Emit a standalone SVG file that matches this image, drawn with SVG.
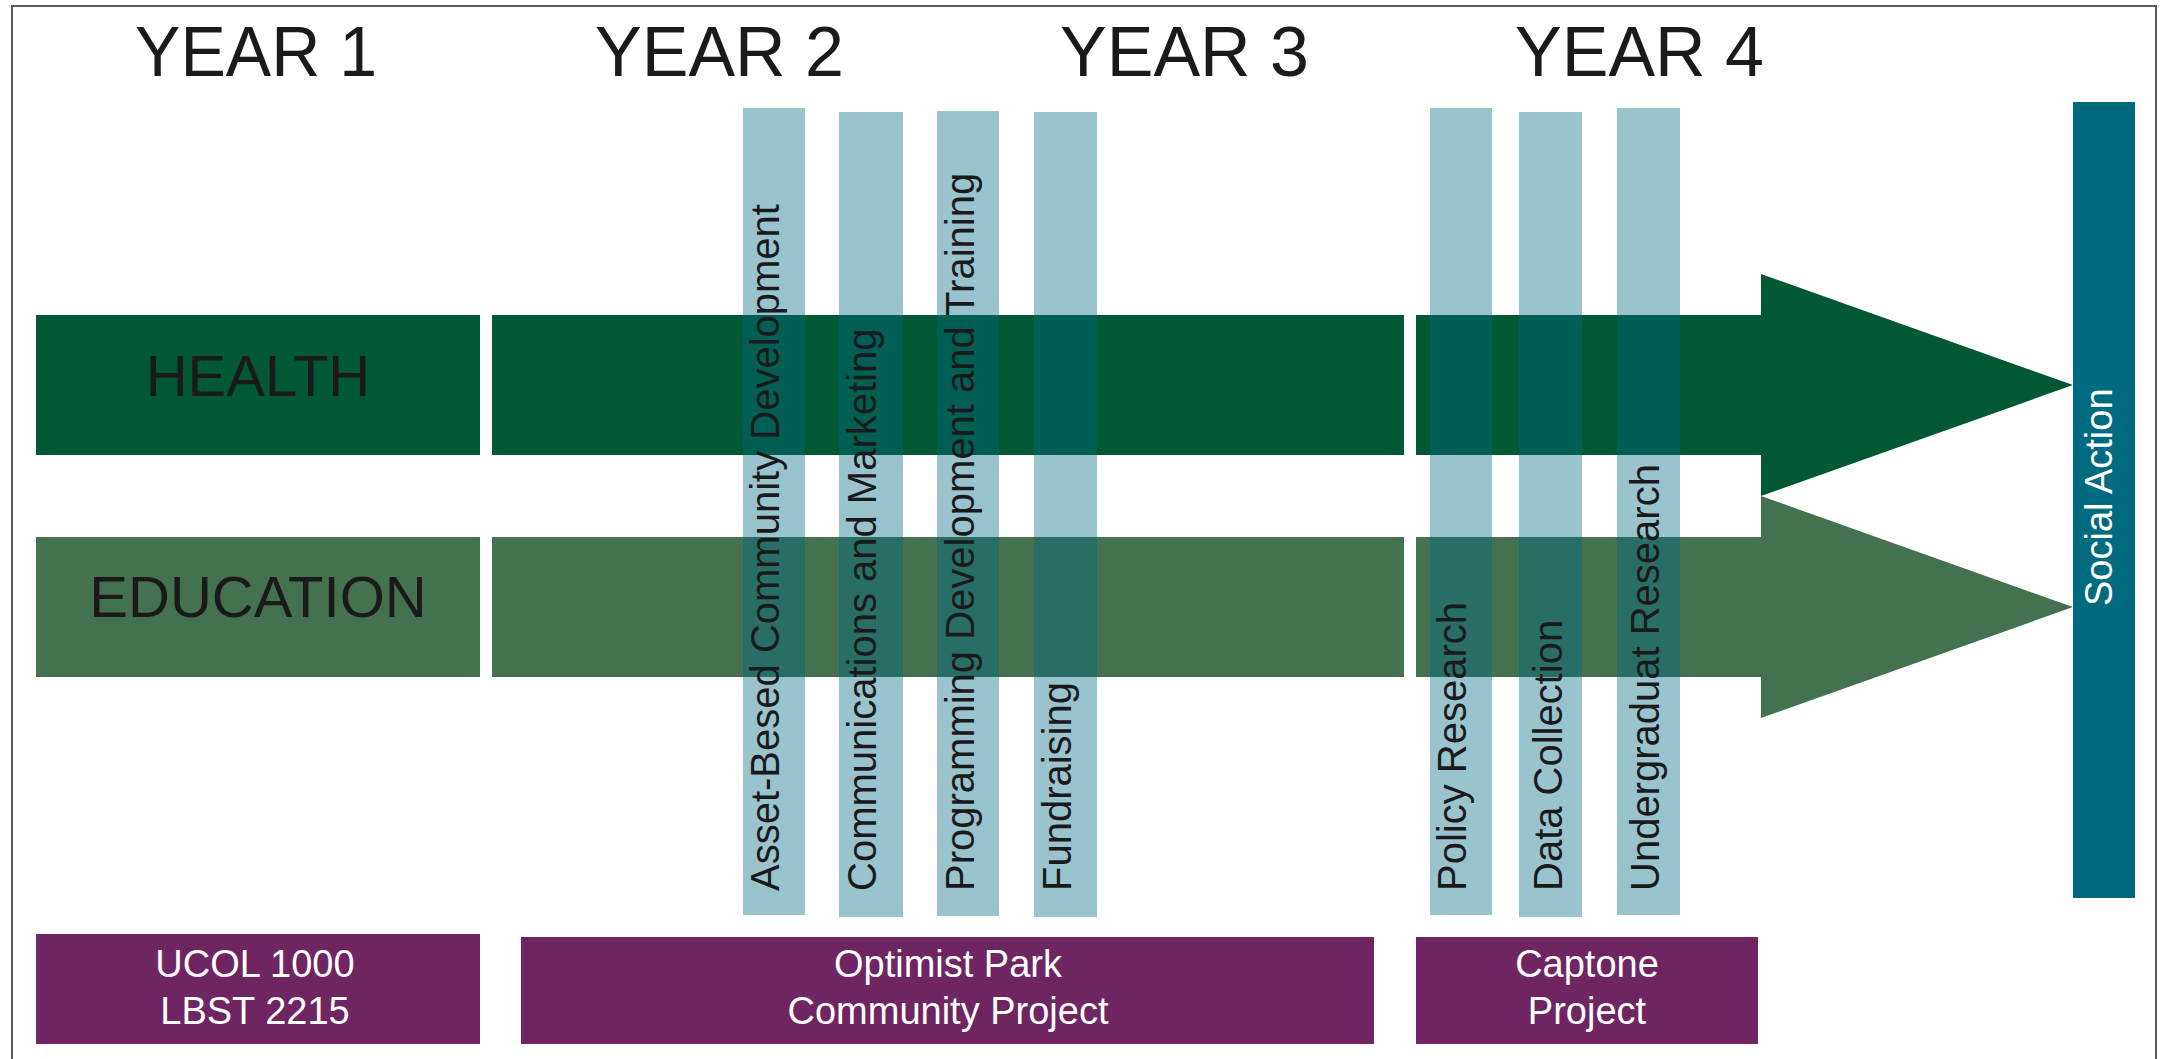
<svg xmlns="http://www.w3.org/2000/svg" width="2160" height="1059" viewBox="0 0 2160 1059">
  <style>
    .year { font-family: "Liberation Sans", Arial, sans-serif; font-size: 70px; fill: #1a1a1a; }
    .theme { font-family: "Liberation Sans", Arial, sans-serif; font-size: 58px; fill: #1a1a1a; text-anchor: middle; }
    .health { fill: #015834; }
    .edu { fill: #447251; }
    .skill { fill: #006881; fill-opacity: 0.4; }
    .skilltxt { font-family: "Liberation Sans", Arial, sans-serif; font-size: 40px; fill: #1a1a1a; }
    .course { fill: #6F2561; }
    .coursetxt { font-family: "Liberation Sans", Arial, sans-serif; font-size: 38px; fill: #ffffff; text-anchor: middle; }
    .action { fill: #006B7E; }
    .actiontxt { font-family: "Liberation Sans", Arial, sans-serif; font-size: 38px; fill: #ffffff; }
  </style>

  <rect x="0" y="0" width="2160" height="1059" fill="#ffffff"/>
  <rect id="frame" x="12" y="6" width="2144" height="1070" fill="none" stroke="#5a5a5a" stroke-width="2"/>

  <g id="year-labels">
    <text class="year" x="135" y="76" textLength="242" lengthAdjust="spacingAndGlyphs">YEAR 1</text>
    <text class="year" x="595" y="76">YEAR 2</text>
    <text class="year" x="1060" y="76">YEAR 3</text>
    <text class="year" x="1515" y="76">YEAR 4</text>
  </g>

  <g id="health-arrow">
    <rect class="health" x="36" y="315" width="444" height="140"/>
    <rect class="health" x="492" y="315" width="912" height="140"/>
    <polygon class="health" points="1416,315 1761,315 1761,274 2073,385 1761,496 1761,455 1416,455"/>
    <text class="theme" x="258" y="396">HEALTH</text>
  </g>

  <g id="education-arrow">
    <rect class="edu" x="36" y="537" width="444" height="140"/>
    <rect class="edu" x="492" y="537" width="912" height="140"/>
    <polygon class="edu" points="1416,537 1761,537 1761,496 2073,607 1761,718 1761,677 1416,677"/>
    <text class="theme" x="258" y="617">EDUCATION</text>
  </g>

  <g id="skill-asset-based">
    <rect class="skill" x="743" y="108" width="62" height="807"/>
    <text class="skilltxt" transform="translate(779,891) rotate(-90)">Asset-Besed Community Development</text>
  </g>
  <g id="skill-communications">
    <rect class="skill" x="839" y="112" width="64" height="805"/>
    <text class="skilltxt" transform="translate(876,891) rotate(-90)">Communications and Marketing</text>
  </g>
  <g id="skill-programming">
    <rect class="skill" x="937" y="111" width="62" height="805"/>
    <text class="skilltxt" transform="translate(974,891) rotate(-90)">Programming Development and Training</text>
  </g>
  <g id="skill-fundraising">
    <rect class="skill" x="1034" y="112" width="63" height="805"/>
    <text class="skilltxt" transform="translate(1071,891) rotate(-90)">Fundraising</text>
  </g>
  <g id="skill-policy">
    <rect class="skill" x="1430" y="108" width="62" height="807"/>
    <text class="skilltxt" transform="translate(1466,891) rotate(-90)">Policy Research</text>
  </g>
  <g id="skill-data">
    <rect class="skill" x="1519" y="112" width="63" height="805"/>
    <text class="skilltxt" transform="translate(1562,891) rotate(-90)">Data Collection</text>
  </g>
  <g id="skill-undergrad">
    <rect class="skill" x="1617" y="108" width="63" height="807"/>
    <text class="skilltxt" transform="translate(1659,891) rotate(-90)">Undergraduat Research</text>
  </g>

  <g id="social-action">
    <rect class="action" x="2073" y="102" width="62" height="796"/>
    <text class="actiontxt" transform="translate(2112,606) rotate(-90)">Social Action</text>
  </g>

  <g id="course-year1">
    <rect class="course" x="36" y="934" width="444" height="110"/>
    <text class="coursetxt" x="255" y="977">UCOL 1000</text>
    <text class="coursetxt" x="255" y="1024">LBST 2215</text>
  </g>
  <g id="course-optimist">
    <rect class="course" x="521" y="937" width="853" height="107"/>
    <text class="coursetxt" x="948" y="977">Optimist Park</text>
    <text class="coursetxt" x="948" y="1024">Community Project</text>
  </g>
  <g id="course-capstone">
    <rect class="course" x="1416" y="937" width="342" height="107"/>
    <text class="coursetxt" x="1587" y="977">Captone</text>
    <text class="coursetxt" x="1587" y="1024">Project</text>
  </g>
</svg>
